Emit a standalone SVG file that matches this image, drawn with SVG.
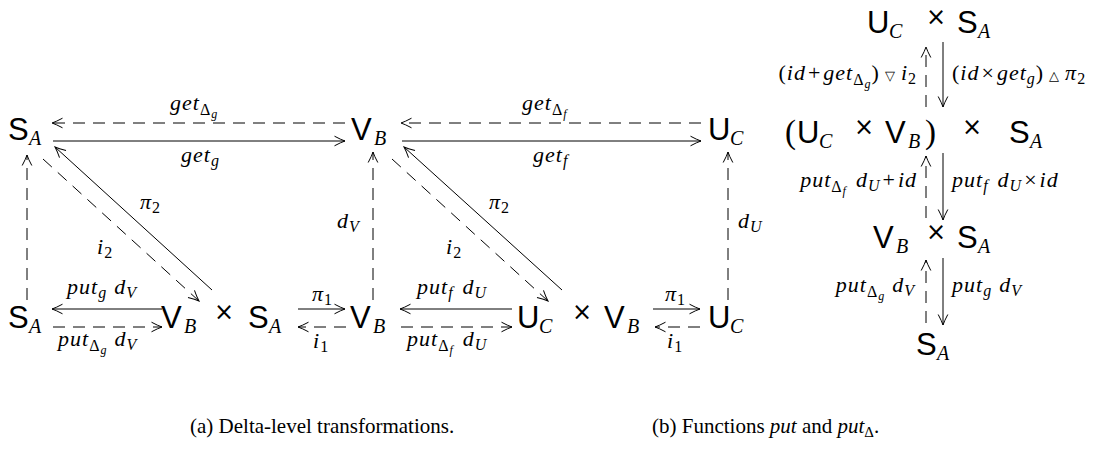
<svg xmlns="http://www.w3.org/2000/svg" width="1102" height="454" viewBox="0 0 1102 454">
<style>
.n{font-size:31px;fill:#000}
.ns{font-style:italic;font-size:20px}
.x{font-size:24px;font-style:normal}
.p{font-size:33px;font-style:normal}
.m{font-style:italic;font-size:22px;fill:#000;letter-spacing:1px}
.u{font-style:normal}
.s1{font-size:16px}
.s2{font-size:12px}
.tri{font-size:13px;font-style:normal}
.cap{font-size:21px;fill:#000}
.ln{stroke:#000;stroke-width:1;fill:none}
.d{stroke-dasharray:12 8}
</style>
<defs>
<marker id="ah" viewBox="-12 -6 13 12" refX="0" refY="0" markerWidth="13" markerHeight="12" orient="auto" markerUnits="userSpaceOnUse">
<path d="M-10.5,-4.8 Q-4,-1.3 0,0 Q-4,1.3 -10.5,4.8" fill="none" stroke="#000" stroke-width="1"/>
</marker>
</defs>

<g id="nodes" font-family="Liberation Sans, Arial, sans-serif">
<!-- panel (a) nodes -->
<g id="SA_top"><text class="n" x="8" y="140">S<tspan class="ns" font-family="Liberation Serif, serif" x="29" y="145">A</tspan></text></g>
<g id="VB_top"><text class="n" x="351" y="140">V<tspan class="ns" font-family="Liberation Serif, serif" x="374" y="145">B</tspan></text></g>
<g id="UC_top"><text class="n" x="708" y="140">U<tspan class="ns" font-family="Liberation Serif, serif" x="730" y="145">C</tspan></text></g>
<g id="SA_bot"><text class="n" x="8" y="328">S<tspan class="ns" font-family="Liberation Serif, serif" x="29" y="333">A</tspan></text></g>
<g id="VBxSA"><text class="n" x="161" y="328">V<tspan class="ns" font-family="Liberation Serif, serif" x="184" y="333">B</tspan><tspan class="x" font-family="DejaVu Sans, sans-serif" x="224" y="320" text-anchor="middle">×</tspan><tspan x="248" y="328">S</tspan><tspan class="ns" font-family="Liberation Serif, serif" x="269" y="333">A</tspan></text></g>
<g id="VB_bot"><text class="n" x="350" y="328">V<tspan class="ns" font-family="Liberation Serif, serif" x="373" y="333">B</tspan></text></g>
<g id="UCxVB"><text class="n" x="517" y="328">U<tspan class="ns" font-family="Liberation Serif, serif" x="539" y="333">C</tspan><tspan class="x" font-family="DejaVu Sans, sans-serif" x="582" y="320" text-anchor="middle">×</tspan><tspan x="604" y="328">V</tspan><tspan class="ns" font-family="Liberation Serif, serif" x="627" y="333">B</tspan></text></g>
<g id="UC_bot"><text class="n" x="708" y="328">U<tspan class="ns" font-family="Liberation Serif, serif" x="730" y="333">C</tspan></text></g>

<!-- panel (b) nodes -->
<g id="b_UCxSA"><text class="n" x="867" y="33">U<tspan class="ns" font-family="Liberation Serif, serif" x="889" y="38">C</tspan><tspan class="x" font-family="DejaVu Sans, sans-serif" x="936" y="25" text-anchor="middle">×</tspan><tspan x="957" y="33">S</tspan><tspan class="ns" font-family="Liberation Serif, serif" x="978" y="38">A</tspan></text></g>
<g id="b_UCxVBxSA"><text class="n" x="785" y="143"><tspan class="p" font-family="Liberation Serif, serif">(</tspan><tspan x="797" y="143">U</tspan><tspan class="ns" font-family="Liberation Serif, serif" x="819" y="148">C</tspan><tspan class="x" font-family="DejaVu Sans, sans-serif" x="864" y="135" text-anchor="middle">×</tspan><tspan x="885" y="143">V</tspan><tspan class="ns" font-family="Liberation Serif, serif" x="908" y="148">B</tspan><tspan class="p" font-family="Liberation Serif, serif" x="925" y="143">)</tspan><tspan class="x" font-family="DejaVu Sans, sans-serif" x="972" y="135" text-anchor="middle">×</tspan><tspan x="1009" y="143">S</tspan><tspan class="ns" font-family="Liberation Serif, serif" x="1030" y="148">A</tspan></text></g>
<g id="b_VBxSA"><text class="n" x="873" y="248">V<tspan class="ns" font-family="Liberation Serif, serif" x="896" y="253">B</tspan><tspan class="x" font-family="DejaVu Sans, sans-serif" x="936" y="240" text-anchor="middle">×</tspan><tspan x="957" y="248">S</tspan><tspan class="ns" font-family="Liberation Serif, serif" x="978" y="253">A</tspan></text></g>
<g id="b_SA"><text class="n" x="916" y="355">S<tspan class="ns" font-family="Liberation Serif, serif" x="937" y="360">A</tspan></text></g>
</g>

<!-- connectors -->
<g id="connectors">
<path class="ln d" d="M345,123H52" marker-end="url(#ah)"/>
<path class="ln" d="M53,141H345" marker-end="url(#ah)"/>
<path class="ln d" d="M701,123H401" marker-end="url(#ah)"/>
<path class="ln" d="M402,141H701" marker-end="url(#ah)"/>
<path class="ln d" d="M27,300V155" marker-end="url(#ah)"/>
<path class="ln d" d="M373,300V152" marker-end="url(#ah)"/>
<path class="ln d" d="M728,300V152" marker-end="url(#ah)"/>
<path class="ln" d="M212,290L55,147" marker-end="url(#ah)"/>
<path class="ln d" d="M43,159L199,301" marker-end="url(#ah)"/>
<path class="ln" d="M562,290L404,147" marker-end="url(#ah)"/>
<path class="ln d" d="M392,159L548,301" marker-end="url(#ah)"/>
<path class="ln" d="M162,309H52" marker-end="url(#ah)"/>
<path class="ln d" d="M53,327H162" marker-end="url(#ah)"/>
<path class="ln" d="M298,309H345" marker-end="url(#ah)"/>
<path class="ln d" d="M346,327H298" marker-end="url(#ah)"/>
<path class="ln" d="M512,309H400" marker-end="url(#ah)"/>
<path class="ln d" d="M401,327H512" marker-end="url(#ah)"/>
<path class="ln" d="M653,309H700" marker-end="url(#ah)"/>
<path class="ln d" d="M700,327H655" marker-end="url(#ah)"/>
<path class="ln d" d="M926,107V47" marker-end="url(#ah)"/>
<path class="ln" d="M943,42V107" marker-end="url(#ah)"/>
<path class="ln d" d="M926,218V156" marker-end="url(#ah)"/>
<path class="ln" d="M943,153V220" marker-end="url(#ah)"/>
<path class="ln d" d="M926,323V260" marker-end="url(#ah)"/>
<path class="ln" d="M943,258V325" marker-end="url(#ah)"/>
</g>

<!-- edge labels -->
<g id="labels" font-family="Liberation Serif, serif">
<text class="m" x="170" y="110">get<tspan class="u s1" dy="5">Δ</tspan><tspan class="s2" dy="3">g</tspan></text>
<text class="m" x="181" y="162">get<tspan class="s1" dy="4">g</tspan></text>
<text class="m" x="522" y="110">get<tspan class="u s1" dy="5">Δ</tspan><tspan class="s2" dy="3">f</tspan></text>
<text class="m" x="533" y="162">get<tspan class="s1" dy="4">f</tspan></text>
<text class="m" x="140" y="209">π<tspan class="u s1" dy="4">2</tspan></text>
<text class="m" x="97" y="254">i<tspan class="u s1" dy="4">2</tspan></text>
<text class="m" x="489" y="209">π<tspan class="u s1" dy="4">2</tspan></text>
<text class="m" x="446" y="254">i<tspan class="u s1" dy="4">2</tspan></text>
<text class="m" x="337" y="228">d<tspan class="s1" dy="4">V</tspan></text>
<text class="m" x="738" y="228">d<tspan class="s1" dy="4">U</tspan></text>
<text class="m" x="67" y="294">put<tspan class="s1" dy="4">g</tspan><tspan dx="7" dy="-4">d</tspan><tspan class="s1" dy="4">V</tspan></text>
<text class="m" x="58" y="346">put<tspan class="u s1" dy="5">Δ</tspan><tspan class="s2" dy="3">g</tspan><tspan dx="7" dy="-8">d</tspan><tspan class="s1" dy="4">V</tspan></text>
<text class="m" x="312" y="301">π<tspan class="u s1" dy="4">1</tspan></text>
<text class="m" x="313" y="348">i<tspan class="u s1" dy="4">1</tspan></text>
<text class="m" x="417" y="294">put<tspan class="s1" dy="4">f</tspan><tspan dx="9" dy="-4">d</tspan><tspan class="s1" dy="4">U</tspan></text>
<text class="m" x="407" y="346">put<tspan class="u s1" dy="5">Δ</tspan><tspan class="s2" dy="3">f</tspan><tspan dx="9" dy="-8">d</tspan><tspan class="s1" dy="4">U</tspan></text>
<text class="m" x="665" y="301">π<tspan class="u s1" dy="4">1</tspan></text>
<text class="m" x="667" y="348">i<tspan class="u s1" dy="4">1</tspan></text>
<text class="m" x="917" y="80" text-anchor="end"><tspan class="u">(</tspan>id<tspan class="u" dx="2">+</tspan><tspan dx="2">get</tspan><tspan class="u s1" dy="5">Δ</tspan><tspan class="s2" dy="3">g</tspan><tspan class="u" dy="-8">)</tspan><tspan class="tri" font-family="DejaVu Sans, sans-serif" dx="5">▽</tspan><tspan dx="5">i</tspan><tspan class="u s1" dy="4">2</tspan></text>
<text class="m" x="952" y="80"><tspan class="u">(</tspan>id<tspan class="u" dx="2">×</tspan><tspan dx="2">get</tspan><tspan class="s1" dy="4">g</tspan><tspan class="u" dy="-4">)</tspan><tspan class="tri" font-family="DejaVu Sans, sans-serif" dx="5">△</tspan><tspan dx="5">π</tspan><tspan class="u s1" dy="4">2</tspan></text>
<text class="m" x="917" y="187" text-anchor="end">put<tspan class="u s1" dy="5">Δ</tspan><tspan class="s2" dy="3">f</tspan><tspan dx="9" dy="-8">d</tspan><tspan class="s1" dy="4">U</tspan><tspan class="u" dx="2" dy="-4">+</tspan><tspan dx="2">id</tspan></text>
<text class="m" x="952" y="187">put<tspan class="s1" dy="4">f</tspan><tspan dx="9" dy="-4">d</tspan><tspan class="s1" dy="4">U</tspan><tspan class="u" dx="2" dy="-4">×</tspan><tspan dx="2">id</tspan></text>
<text class="m" x="915" y="292" text-anchor="end">put<tspan class="u s1" dy="5">Δ</tspan><tspan class="s2" dy="3">g</tspan><tspan dx="7" dy="-8">d</tspan><tspan class="s1" dy="4">V</tspan></text>
<text class="m" x="952" y="292">put<tspan class="s1" dy="4">g</tspan><tspan dx="7" dy="-4">d</tspan><tspan class="s1" dy="4">V</tspan></text>
</g>

<!-- captions -->
<g id="captions" font-family="Liberation Serif, serif">
<text class="cap" x="190" y="433">(a) Delta-level transformations.</text>
<text class="cap" x="652" y="433">(b) Functions <tspan font-style="italic">put</tspan> and <tspan font-style="italic">put</tspan><tspan font-size="15" dy="4">Δ</tspan><tspan dy="-4">.</tspan></text>
</g>
</svg>
